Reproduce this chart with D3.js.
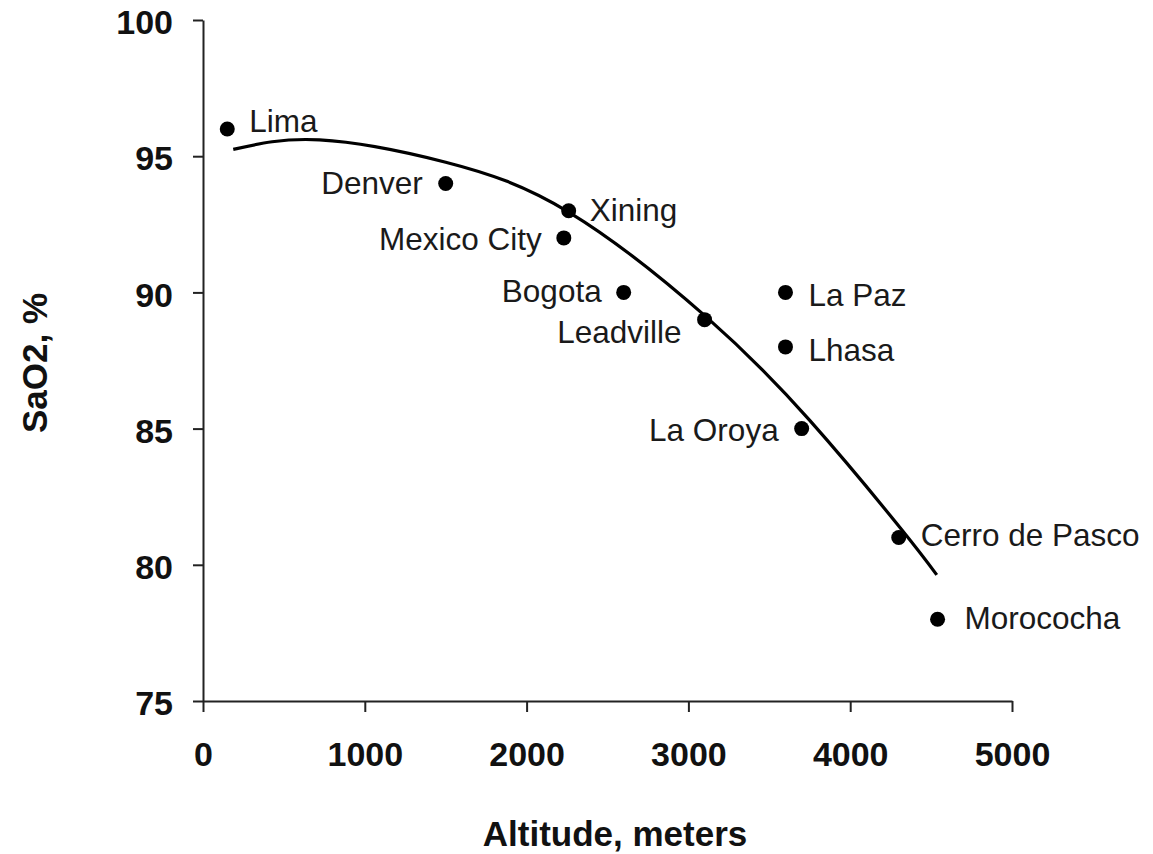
<!DOCTYPE html>
<html>
<head>
<meta charset="utf-8">
<script src="https://cdn.jsdelivr.net/npm/d3@7"></script>
<style>
  html, body { margin: 0; padding: 0; background: #fff; }
  svg { display: block; }
</style>
</head>
<body>
<svg id="chart" width="1153" height="854"></svg>
<script>
// ---- data ----
const cities    = ["Lima", "Denver", "Xining", "Mexico City", "Bogota", "Leadville", "La Paz", "Lhasa", "La Oroya", "Cerro de Pasco", "Morococha"];
const altitudes = [150, 1500, 2260, 2230, 2600, 3100, 3600, 3600, 3700, 4300, 4540];
const sao2      = [96, 94, 93, 92, 90, 89, 90, 88, 85, 81, 78];

// trend curve, points
const trendAlt  = [187, 720, 1500, 2260, 3110, 3750, 4310, 4535];
const trendSaO2 = [95.25, 95.6, 94.78, 92.95, 89.1, 85.3, 81.35, 79.63];

const xTicks = [0, 1000, 2000, 3000, 4000, 5000];
const yTicks = [75, 80, 85, 90, 95, 100];
const xTitle = "Altitude, meters";
const yTitle = "SaO2, %";

// ---- layout ----
const svg = d3.select("#chart");
svg.append("rect").attr("width", 1153).attr("height", 854).attr("fill", "#fff");

const x = d3.scaleLinear().domain([0, 5000]).range([203, 1012]);
const y = d3.scaleLinear().domain([75, 100]).range([701, 20]);

const axisColor = "#222";
const tickFont = "'Liberation Sans', Arial, sans-serif";

// y axis
const gy = svg.append("g").attr("transform", `translate(${x(0)},0)`)
  .call(d3.axisLeft(y).tickValues(yTicks).tickSize(10).tickSizeOuter(0).tickPadding(20).tickFormat(d3.format("d")));
// x axis
const gx = svg.append("g").attr("transform", `translate(0,${y(75)})`)
  .call(d3.axisBottom(x).tickValues(xTicks).tickSize(11).tickSizeOuter(0).tickPadding(30).tickFormat(d3.format("d")));

[gx, gy].forEach(g => {
  g.select(".domain").attr("stroke", axisColor).attr("stroke-width", 2);
  g.selectAll(".tick line").attr("stroke", axisColor).attr("stroke-width", 2);
  g.selectAll(".tick text")
    .attr("fill", "#111")
    .style("font-family", tickFont)
    .style("font-weight", "bold")
    .style("font-size", "34px");
});
gy.selectAll(".tick text").attr("dy", "0.4em");

// axis titles
svg.append("text")
  .attr("x", 615).attr("y", 846)
  .attr("text-anchor", "middle")
  .style("font-family", tickFont).style("font-weight", "bold").style("font-size", "35px")
  .attr("fill", "#111")
  .text(xTitle);

svg.append("text")
  .attr("transform", "translate(47,363) rotate(-90)")
  .attr("text-anchor", "middle")
  .style("font-family", tickFont).style("font-weight", "bold").style("font-size", "35px")
  .attr("fill", "#111")
  .text(yTitle);

// trend line
const trend = trendAlt.map((a, i) => [a, trendSaO2[i]]);
svg.append("path")
  .datum(trend)
  .attr("fill", "none")
  .attr("stroke", "#000")
  .attr("stroke-width", 3.2)
  .attr("stroke-linecap", "butt")
  .attr("d", d3.line().x(d => x(d[0])).y(d => y(d[1])).curve(d3.curveNatural));

// points
const pts = cities.map((c, i) => ({ city: c, alt: altitudes[i], s: sao2[i] }));
svg.append("g").selectAll("circle")
  .data(pts).join("circle")
  .attr("cx", d => x(d.alt))
  .attr("cy", d => y(d.s))
  .attr("r", 7.5)
  .attr("fill", "#000");

// label placement (layout only)
const labelPlace = {
  "Lima":           { dx: 22,  dy: 3,  anchor: "start" },
  "Denver":         { dx: -23, dy: 11, anchor: "end" },
  "Xining":         { dx: 21,  dy: 10, anchor: "start" },
  "Mexico City":    { dx: -22, dy: 12, anchor: "end" },
  "Bogota":         { dx: -22, dy: 10, anchor: "end" },
  "Leadville":      { dx: -23, dy: 23, anchor: "end" },
  "La Paz":         { dx: 23,  dy: 14, anchor: "start" },
  "Lhasa":          { dx: 23,  dy: 14, anchor: "start" },
  "La Oroya":       { dx: -23, dy: 12, anchor: "end" },
  "Cerro de Pasco": { dx: 22,  dy: 8,  anchor: "start" },
  "Morococha":      { dx: 27,  dy: 10, anchor: "start" }
};

svg.append("g").selectAll("text")
  .data(pts).join("text")
  .attr("x", d => x(d.alt) + labelPlace[d.city].dx)
  .attr("y", d => y(d.s) + labelPlace[d.city].dy)
  .attr("text-anchor", d => labelPlace[d.city].anchor)
  .style("font-family", tickFont)
  .style("font-size", "31.5px")
  .attr("fill", "#1a1a1a")
  .text(d => d.city);
</script>
</body>
</html>
